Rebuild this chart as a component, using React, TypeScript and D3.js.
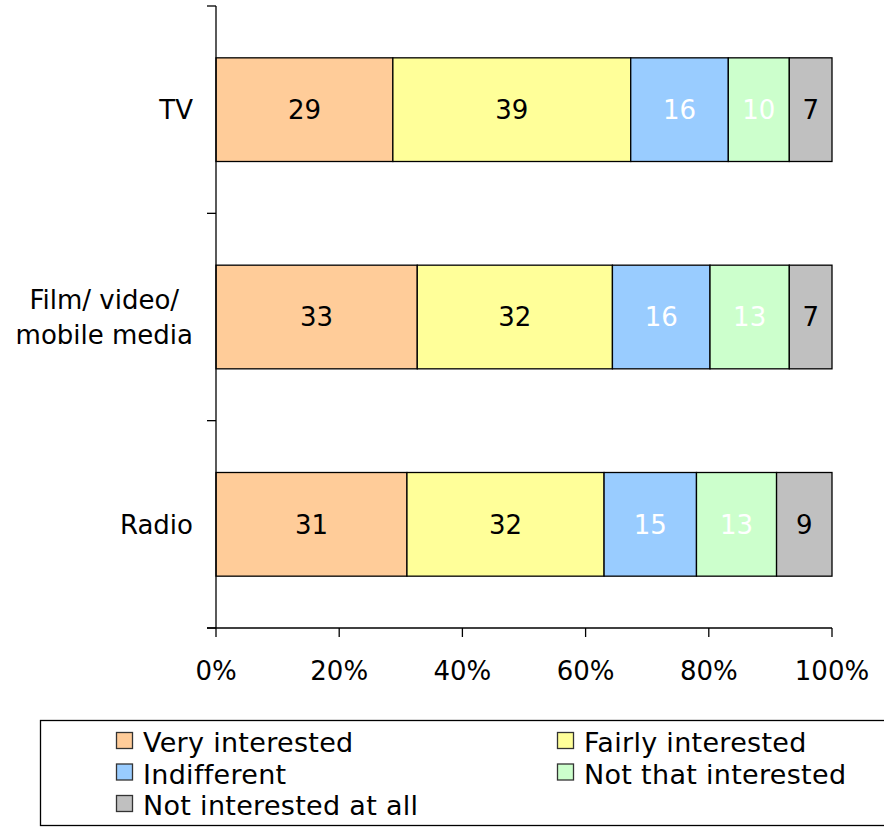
import React, { useEffect, useRef } from "react";
import * as d3 from "d3";

// Categories, top to bottom
const categories = ["TV", "Film/ video/\nmobile media", "Radio"];
// Response groups (series)
const seriesNames = [
  "Very interested",
  "Fairly interested",
  "Indifferent",
  "Not that interested",
  "Not interested at all",
];
const seriesColors = ["#FFCC99", "#FFFF99", "#99CCFF", "#CCFFCC", "#C0C0C0"];
const labelColors = ["#000000", "#000000", "#FFFFFF", "#FFFFFF", "#000000"];
// Values per category, one per series
const tvValues = [29, 39, 16, 10, 7];
const filmValues = [33, 32, 16, 13, 7];
const radioValues = [31, 32, 15, 13, 9];
const tickValues = [0, 0.2, 0.4, 0.6, 0.8, 1];

const FONT = "'DejaVu Sans', Verdana, sans-serif";

export default function App() {
  const ref = useRef<SVGSVGElement | null>(null);

  useEffect(() => {
    const svg = d3.select(ref.current);
    svg.selectAll("*").remove();

    const rows = [tvValues, filmValues, radioValues];
    const x = d3.scaleLinear().domain([0, 1]).range([216, 832]);
    const y = d3
      .scaleBand<string>()
      .domain(categories)
      .range([6, 628])
      .paddingInner(0.5)
      .paddingOuter(0.25);

    // Bars
    const plot = svg.append("g");
    rows.forEach((vals, ci) => {
      const total = d3.sum(vals);
      let acc = 0;
      vals.forEach((v, si) => {
        const x0 = x(acc / total);
        acc += v;
        const x1 = x(acc / total);
        const y0 = y(categories[ci])!;
        plot
          .append("rect")
          .attr("x", x0)
          .attr("y", y0)
          .attr("width", x1 - x0)
          .attr("height", y.bandwidth())
          .attr("fill", seriesColors[si])
          .attr("stroke", "#000")
          .attr("stroke-width", 1.3);
        plot
          .append("text")
          .attr("x", (x0 + x1) / 2)
          .attr("y", y0 + y.bandwidth() / 2)
          .attr("dy", "0.36em")
          .attr("text-anchor", "middle")
          .attr("font-family", FONT)
          .attr("font-size", 26)
          .attr("fill", labelColors[si])
          .text(v);
      });
    });

    // Category axis (left)
    const yAxis = svg.append("g");
    yAxis
      .append("line")
      .attr("x1", 216)
      .attr("x2", 216)
      .attr("y1", 6)
      .attr("y2", 628)
      .attr("stroke", "#000")
      .attr("stroke-width", 1.3);
    const step = y.step();
    const bounds = d3.range(categories.length + 1).map((i) => 6 + i * step);
    bounds.forEach((b) => {
      yAxis
        .append("line")
        .attr("x1", 207)
        .attr("x2", 216)
        .attr("y1", b)
        .attr("y2", b)
        .attr("stroke", "#000")
        .attr("stroke-width", 1.3);
    });
    categories.forEach((c) => {
      const lines = c.split("\n");
      const cy = y(c)! + y.bandwidth() / 2;
      const g = yAxis.append("g");
      const lh = 35;
      const texts = lines.map((ln, i) =>
        g
          .append("text")
          .attr("y", cy + (i - (lines.length - 1) / 2) * lh)
          .attr("dy", "0.36em")
          .attr("font-family", FONT)
          .attr("font-size", 26)
          .attr("fill", "#000")
          .text(ln)
      );
      const widths = texts.map((t) => (t.node() as SVGTextElement).getComputedTextLength());
      const maxW = d3.max(widths) || 0;
      const cx = 193 - maxW / 2;
      texts.forEach((t) => t.attr("x", cx).attr("text-anchor", "middle"));
    });

    // Value axis (bottom)
    const xAxis = svg.append("g");
    xAxis
      .append("line")
      .attr("x1", 207)
      .attr("x2", 832)
      .attr("y1", 628)
      .attr("y2", 628)
      .attr("stroke", "#000")
      .attr("stroke-width", 1.3);
    tickValues.forEach((t) => {
      xAxis
        .append("line")
        .attr("x1", x(t))
        .attr("x2", x(t))
        .attr("y1", 628)
        .attr("y2", 637)
        .attr("stroke", "#000")
        .attr("stroke-width", 1.3);
      xAxis
        .append("text")
        .attr("x", x(t))
        .attr("y", 680)
        .attr("text-anchor", "middle")
        .attr("font-family", FONT)
        .attr("font-size", 26)
        .attr("fill", "#000")
        .text(d3.format(".0%")(t));
    });

    // Legend
    const legend = svg.append("g");
    legend
      .append("rect")
      .attr("x", 40.5)
      .attr("y", 720.5)
      .attr("width", 860)
      .attr("height", 105)
      .attr("fill", "#fff")
      .attr("stroke", "#000")
      .attr("stroke-width", 1.3);
    const colX = [116, 557];
    const rowY = [752, 783.5, 815];
    seriesNames.forEach((name, i) => {
      const cx = colX[i % 2];
      const by = rowY[Math.floor(i / 2)];
      legend
        .append("rect")
        .attr("x", cx + 0.5)
        .attr("y", by - 19.5)
        .attr("width", 16)
        .attr("height", 16)
        .attr("fill", seriesColors[i])
        .attr("stroke", "#333")
        .attr("stroke-width", 1.3);
      legend
        .append("text")
        .attr("x", cx + 27)
        .attr("y", by)
        .attr("font-family", FONT)
        .attr("font-size", 27)
        .attr("letter-spacing", 0.3)
        .attr("fill", "#000")
        .text(name);
    });
  }, []);

  return (
    <svg
      ref={ref}
      width={884}
      height={829}
      style={{ position: "absolute", left: 0, top: 0, background: "#fff" }}
    />
  );
}
